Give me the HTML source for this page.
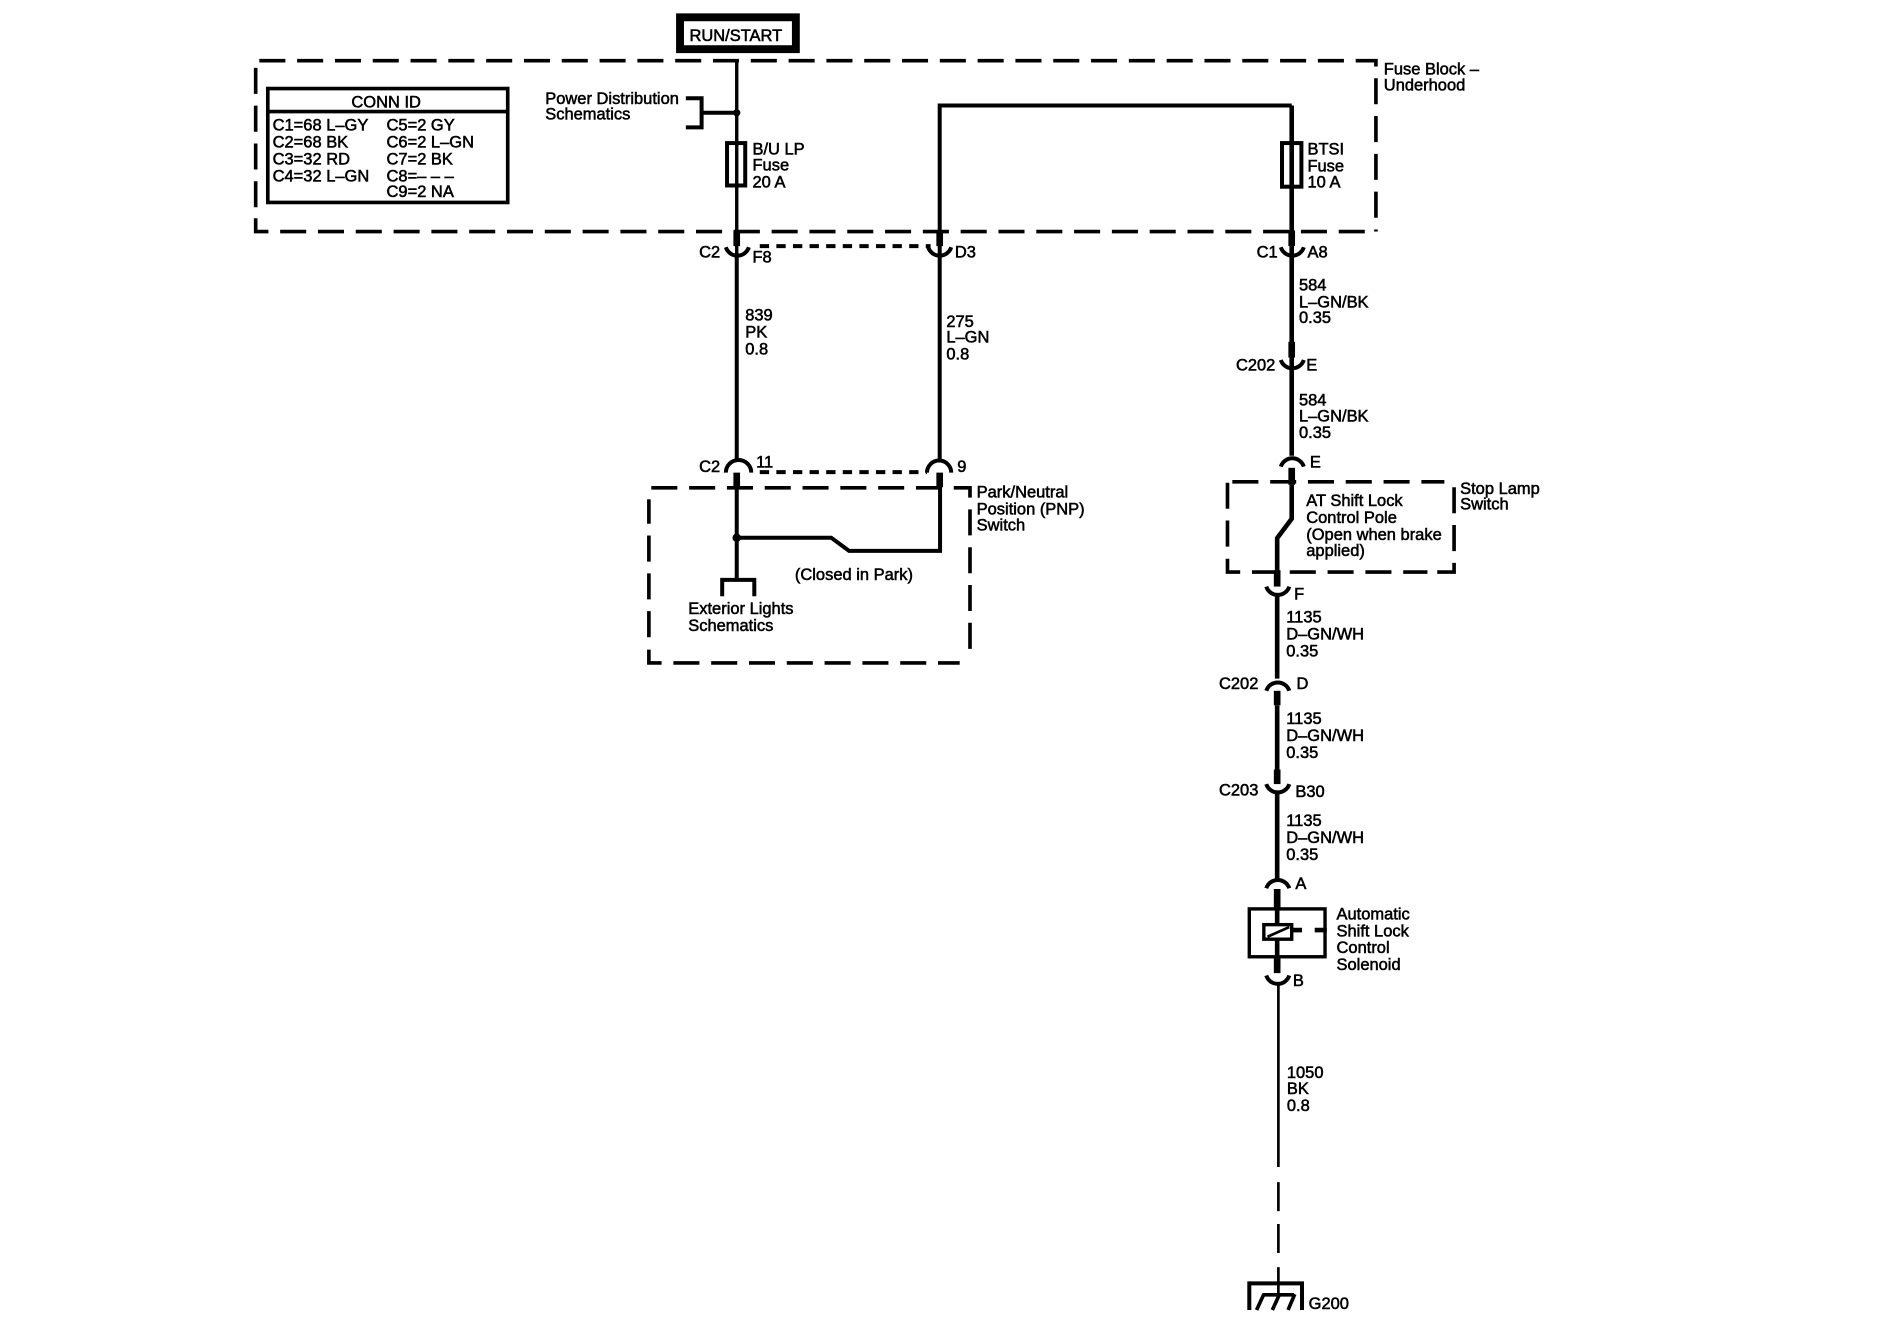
<!DOCTYPE html>
<html><head><meta charset="utf-8"><style>
html,body{margin:0;padding:0;background:#fff}
svg{display:block}
text{font-family:"Liberation Sans",sans-serif;font-size:13.6px;fill:#000;stroke:#000;stroke-width:.45px;transform:translate(0,.6px)}
.w{fill:none;stroke:#000;stroke-width:3.3}
.r{fill:none;stroke:#000;stroke-width:3.8}
.t{fill:none;stroke:#000;stroke-width:5.5}
.d{fill:none;stroke:#000;stroke-width:3;stroke-dasharray:21.5 9.7}
.o{fill:none;stroke:#000;stroke-width:3.3;stroke-dasharray:7.7 6}
.c{fill:none;stroke:#000;stroke-width:3.3}
</style></head><body>
<svg width="1900" height="1344" viewBox="0 0 1568 1109" xmlns="http://www.w3.org/2000/svg">
<rect x="561.2" y="14.2" width="95.6" height="26.3" fill="none" stroke="#000" stroke-width="6.5"/>
<text x="569" y="33">RUN/START</text>
<path class="d" d="M214 50H1135.5V191"/><path class="d" d="M211 180V191H1135.5"/><path class="d" d="M211 171V50"/>
<text x="1142" y="61">Fuse Block –</text><text x="1142" y="74">Underhood</text>
<rect x="221" y="73" width="198" height="94" fill="none" stroke="#000" stroke-width="3"/>
<line x1="221" y1="92" x2="419" y2="92" stroke="#000" stroke-width="3"/>
<text x="290" y="88">CONN ID</text>
<text x="225" y="107">C1=68 L–GY</text><text x="225" y="121">C2=68 BK</text><text x="225" y="135">C3=32 RD</text><text x="225" y="149">C4=32 L–GN</text>
<text x="319" y="107">C5=2 GY</text><text x="319" y="121">C6=2 L–GN</text><text x="319" y="135">C7=2 BK</text><text x="319" y="149">C8=– – –</text><text x="319" y="162">C9=2 NA</text>
<text x="450" y="85">Power Distribution</text><text x="450" y="98">Schematics</text>
<path class="w" d="M566 81H579V105H566M579 93H608"/><circle cx="608" cy="93" r="3"/>
<path d="M608 50V210" fill="none" stroke="#000" stroke-width="2.8"/><path class="w" d="M608 210V380"/>
<path class="t" d="M608 190V203M608 390V402"/>
<rect class="w" x="600" y="118" width="15" height="35"/>
<text x="621" y="127">B/U LP</text><text x="621" y="140">Fuse</text><text x="621" y="154">20 A</text>
<path class="c" d="M599 204A10 10 0 0 0 618 204"/>
<text x="577" y="212">C2</text><text x="621" y="216">F8</text>
<path class="o" d="M627 203H768"/>
<path class="c" d="M766 204A10 10 0 0 0 785 204"/>
<text x="788" y="212">D3</text>
<path class="w" d="M775.5 380V87H1066"/>
<path class="t" d="M775.5 190V203M775.5 390V402"/>
<path class="r" d="M1066 87V376"/>
<rect class="w" x="1058" y="118" width="16" height="36"/>
<text x="1079" y="127">BTSI</text><text x="1079" y="141">Fuse</text><text x="1079" y="154">10 A</text>
<path class="c" d="M1057 204A10 10 0 0 0 1076 204"/><path class="t" d="M1066 190V203"/>
<text x="1037" y="212">C1</text><text x="1079" y="212">A8</text>
<text x="1072" y="239">584</text><text x="1072" y="253">L–GN/BK</text><text x="1072" y="266">0.35</text>
<path class="t" d="M1066 282V295"/><path class="c" d="M1057 297A10 10 0 0 0 1076 297"/>
<text x="1020" y="305">C202</text><text x="1078" y="305">E</text>
<text x="1072" y="334">584</text><text x="1072" y="347">L–GN/BK</text><text x="1072" y="361">0.35</text>
<path class="c" d="M1057 385A10 10 0 0 1 1076 385"/><text x="1081" y="385">E</text>
<path class="t" d="M1066 386V400"/>
<path class="r" d="M1066 400V428L1054 444V472"/>
<path class="t" d="M1054 470.5V484"/>
<path class="d" d="M1017 397.5H1192"/><path class="d" d="M1200 402V472H1185"/><path class="d" d="M1013 461V472H1178"/><path class="d" d="M1013 451V398"/>
<text x="1078" y="417">AT Shift Lock</text><text x="1078" y="431">Control Pole</text><text x="1078" y="445">(Open when brake</text><text x="1078" y="458">applied)</text>
<text x="1205" y="407">Stop Lamp</text><text x="1205" y="420">Switch</text>
<path class="c" d="M1045 484A10 10 0 0 0 1064 484"/><text x="1068" y="494">F</text>
<path class="r" d="M1054 490V560"/>
<text x="1061.5" y="513">1135</text><text x="1061.5" y="527">D–GN/WH</text><text x="1061.5" y="541">0.35</text>
<path class="c" d="M1045 570A10 10 0 0 1 1064 570"/>
<text x="1006" y="568">C202</text><text x="1070" y="568">D</text>
<path class="t" d="M1054 570V582"/>
<path class="r" d="M1054 582V645"/><path class="t" d="M1054 635V647"/>
<text x="1061.5" y="597">1135</text><text x="1061.5" y="611">D–GN/WH</text><text x="1061.5" y="625">0.35</text>
<path class="c" d="M1045 647A10 10 0 0 0 1064 647"/>
<text x="1006" y="656">C203</text><text x="1069" y="657">B30</text>
<path class="r" d="M1054 654V727"/>
<text x="1061.5" y="681">1135</text><text x="1061.5" y="695">D–GN/WH</text><text x="1061.5" y="709">0.35</text>
<path class="c" d="M1045 733A10 10 0 0 1 1064 733"/><text x="1069" y="733">A</text>
<path class="t" d="M1054 733.6V750M1054 790V803"/>
<path class="r" d="M1054 750V790"/>
<rect x="1031" y="750" width="62.5" height="39.5" fill="none" stroke="#000" stroke-width="2.8"/>
<rect x="1043" y="763" width="23" height="12" fill="#fff" stroke="#000" stroke-width="2.8"/>
<path d="M1046 773L1064 765" stroke="#000" stroke-width="2.2"/>
<path class="r" d="M1067 767.5H1074.5M1085 767.5H1095"/>
<text x="1103" y="758">Automatic</text><text x="1103" y="772">Shift Lock</text><text x="1103" y="786">Control</text><text x="1103" y="800">Solenoid</text>
<path class="c" d="M1045 805A10 10 0 0 0 1064 805"/><text x="1067" y="813">B</text>
<path d="M1055 811V963M1055 975.5V999.4M1055 1010V1034M1055 1045.6V1067" stroke="#000" stroke-width="2.2" fill="none"/>
<text x="1062" y="889">1050</text><text x="1062" y="902">BK</text><text x="1062" y="916">0.8</text>
<path class="w" d="M1031 1081V1059H1074.5V1081"/>
<path d="M1042 1068.5H1068M1043 1068L1037 1081M1056 1068L1050 1081M1068.5 1068L1063 1081" stroke="#000" stroke-width="3" fill="none"/>
<text x="1080" y="1079.5">G200</text>
<text x="615" y="264">839</text><text x="615" y="278">PK</text><text x="615" y="292">0.8</text>
<text x="781" y="269">275</text><text x="781" y="282">L–GN</text><text x="781" y="296">0.8</text>
<path class="c" d="M599 390A10 10 0 0 1 620 390"/><path class="c" d="M765 390A10 10 0 0 1 785 390"/>
<text x="577" y="389">C2</text><text x="624" y="385">11</text><text x="790" y="389">9</text>
<path class="o" d="M627 389.5H765"/>
<path class="d" d="M537.5 402.5H800.5V538"/><path class="d" d="M535.5 536V547H792"/><path class="d" d="M535.5 525.8V412"/>
<path class="w" d="M608 402V478M596 492V478.5H622.5V492"/>
<circle cx="608" cy="443.7" r="3.5"/>
<path class="w" d="M608 443.7H686L700.7 454.5H775.8V402"/>
<text x="568" y="506">Exterior Lights</text><text x="568" y="520">Schematics</text>
<text x="656" y="478">(Closed in Park)</text>
<text x="806" y="410">Park/Neutral</text><text x="806" y="424">Position (PNP)</text><text x="806" y="437">Switch</text>
</svg>
</body></html>
